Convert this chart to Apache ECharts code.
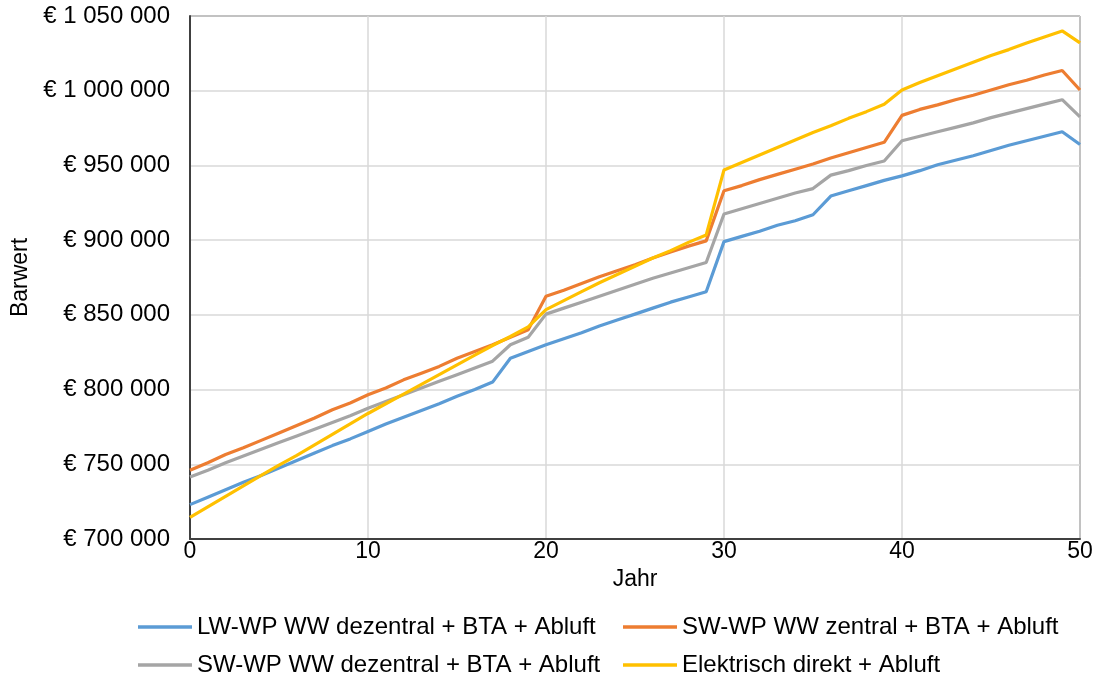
<!DOCTYPE html>
<html>
<head>
<meta charset="utf-8">
<script src="https://cdn.jsdelivr.net/npm/echarts@6/dist/echarts.min.js"></script>
<style>
html,body{margin:0;padding:0;background:#fff;}
#c{width:1100px;height:681px;}
</style>
</head>
<body>
<div id="c"></div>
<script>
const years = [0,1,2,3,4,5,6,7,8,9,10,11,12,13,14,15,16,17,18,19,20,21,22,23,24,25,26,27,28,29,30,31,32,33,34,35,36,37,38,39,40,41,42,43,44,45,46,47,48,49,50];
const seriesNames = [
  "LW-WP WW dezentral + BTA + Abluft",
  "SW-WP WW zentral + BTA + Abluft",
  "SW-WP WW dezentral + BTA + Abluft",
  "Elektrisch direkt + Abluft"
];
// values in thousand euro
const lwDezentral = [723.0,728.0,733.0,738.0,742.5,747.5,752.5,757.5,762.5,767.0,772.0,777.0,781.5,786.0,790.5,795.5,800.0,805.0,821.0,825.5,830.0,834.0,838.0,842.5,846.5,850.5,854.5,858.5,862.0,865.5,899.0,902.5,906.0,910.0,913.0,917.0,929.5,933.0,936.5,940.0,943.0,946.5,950.5,953.5,956.5,960.0,963.5,966.5,969.5,972.5,964.0];
const swZentral = [746,751,756.5,761,766,771,776,781,786.5,791,796.5,801,806.5,811,815.5,821,825.5,830,835,840,862.5,866.5,871,875.5,879.5,883.5,888,892,896,899.5,933,936.5,940.5,944,947.5,951,955,958.5,962,965.5,983.5,987.5,990.5,994,997,1000.5,1004,1007,1010.5,1013.5,1000.5];
const swDezentral = [741.5,746,751,755.5,760,764.5,769,773.5,778,782.5,787.5,792,796.5,801,805.5,810,814.5,819,830,835,850.5,854.5,858.5,862.5,866.5,870.5,874.5,878,881.5,885,917.5,921,924.5,928,931.5,934.5,943.5,946.5,950,953,966.5,969.5,972.5,975.5,978.5,982,985,988,991,994,982.5];
const elektrisch = [714.5,721.5,728.5,735.5,742.5,749.5,756,763,770,777,784,790.5,797,803.5,810,816.5,823,829.5,835.5,842,853.5,859.5,865.5,871.5,877,882.5,888,893,898.5,903.5,947,952,957,962,967,972,976.5,981.5,986,991,1000.5,1005.5,1010,1014.5,1019,1023.5,1027.5,1032,1036,1040,1032];
const yTicks = {min:700000, max:1050000, interval:50000};
const xTicks = {min:0, max:50, interval:10};

const colors = ['#5B9BD5','#ED7D31','#A5A5A5','#FFC000'];
const allData = [lwDezentral, swZentral, swDezentral, elektrisch];

function fmtEuro(v){
  const s = Math.round(v).toString().replace(/\B(?=(\d{3})+(?!\d))/g,' ');
  return '€ ' + s;
}

const font = 'Liberation Sans, Arial, sans-serif';
const chart = echarts.init(document.getElementById('c'), null, {renderer:'canvas'});
const legendPos = [
  {left:133, top:610},
  {left:618, top:610},
  {left:133, top:648},
  {left:618, top:648}
];
chart.setOption({
  animation:false,
  backgroundColor:'#fff',
  grid:{left:190, right:20, top:16, bottom:142, show:true, borderColor:'#000', borderWidth:1, backgroundColor:'transparent'},
  legend: seriesNames.map((n,i)=>({
    data:[n], left:legendPos[i].left, top:legendPos[i].top,
    itemWidth:54, itemHeight:3.5, itemGap:5,
    icon:'rect',
    textStyle:{fontFamily:font, fontSize:24, color:'#000', padding:[0,0,0,0]}
  })),
  xAxis:{
    type:'value', min:xTicks.min, max:xTicks.max, interval:xTicks.interval,
    name:'Jahr', nameLocation:'middle', nameGap:28,
    nameTextStyle:{fontFamily:font, fontSize:23, color:'#000'},
    axisLine:{show:true, onZero:false, lineStyle:{color:'#404040', width:2}},
    axisTick:{show:false},
    axisLabel:{fontFamily:font, fontSize:23, color:'#000', margin:1},
    splitLine:{show:true, lineStyle:{color:'#D9D9D9', width:1.5}}
  },
  yAxis:{
    type:'value', min:yTicks.min, max:yTicks.max, interval:yTicks.interval,
    name:'Barwert', nameLocation:'middle', nameGap:156, nameRotate:90,
    nameTextStyle:{fontFamily:font, fontSize:23, color:'#000'},
    axisLine:{show:true, lineStyle:{color:'#404040', width:2}},
    axisTick:{show:false},
    axisLabel:{fontFamily:font, fontSize:24, color:'#000', margin:20, formatter:fmtEuro},
    splitLine:{show:true, lineStyle:{color:'#D9D9D9', width:1.5}}
  },
  series: seriesNames.map((n,i)=>({
    name:n, type:'line', showSymbol:false, symbol:'none',
    data: years.map((y,j)=>[y, allData[i][j]*1000]),
    lineStyle:{color:colors[i], width:3.2},
    itemStyle:{color:colors[i]},
    z: 2
  }))
});
</script>
</body>
</html>
